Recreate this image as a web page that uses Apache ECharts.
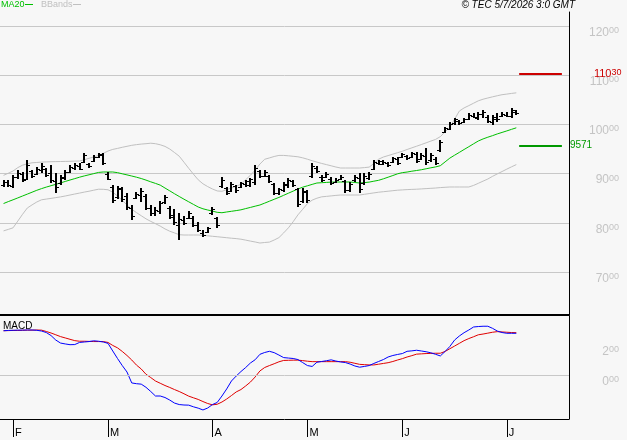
<!DOCTYPE html>
<html>
<head>
<meta charset="utf-8">
<script src="https://cdn.jsdelivr.net/npm/echarts@6/dist/echarts.min.js"></script>
<style>
  html, body { margin: 0; padding: 0; background: #f7f7f7; }
  #chart { width: 627px; height: 440px; }
</style>
</head>
<body>
<div id="chart"></div>
<script>
// daily bars, index 0 = 29 Jan ... 108 = 3 Jul
const opens = [87.6,88.2,87.5,89.3,90.0,89.0,90.5,90.0,90.8,90.9,
  90.2,88.5,88.0,89.2,90.4,91.2,91.5,92.4,91.9,92.6,
  93.4,93.8,90.0,87.2,85.2,86.8,85.5,83.0,85.0,85.6,
  85.4,83.0,82.0,82.3,84.2,83.0,81.6,79.5,80.5,81.0,
  81.0,79.6,78.0,78.2,81.9,80.9,87.4,87.0,86.5,87.4,
  87.3,87.9,87.7,88.2,90.5,89.6,89.5,87.8,86.0,86.6,
  87.6,88.5,86.8,84.4,86.3,89.5,91.2,89.4,89.3,89.0,
  88.3,89.0,88.4,86.6,88.6,89.2,88.0,89.2,91.0,92.2,
  92.0,92.1,92.4,92.9,93.4,93.5,93.4,94.0,93.0,93.5,
  92.7,93.0,94.8,98.5,99.1,100.2,100.7,100.5,101.2,101.8,
  101.4,102.1,101.6,100.4,101.2,101.7,102.0,101.7,102.6];
const closes = [88.3,87.6,89.4,90.2,88.8,91.8,89.6,91.0,91.6,89.7,
  88.6,87.2,89.3,90.4,91.4,91.8,91.0,93.8,91.5,93.4,
  93.9,92.2,89.0,84.6,87.0,84.8,83.2,81.3,85.9,86.5,
  83.0,81.9,82.6,84.0,85.2,81.2,80.2,80.8,80.0,82.0,
  79.6,78.6,77.6,78.9,82.8,79.5,88.8,86.0,87.9,86.6,
  88.0,88.4,88.9,91.2,89.5,90.3,88.4,86.1,86.8,87.9,
  88.7,87.6,83.8,86.5,84.6,91.6,90.6,88.7,90.0,88.0,
  88.8,89.4,86.7,87.8,89.4,86.8,89.6,90.0,92.3,92.5,
  92.4,91.7,93.1,92.2,94.0,93.1,94.1,92.6,93.8,92.3,
  93.8,92.2,96.4,99.2,100.1,101.0,100.3,101.0,102.0,101.6,
  102.2,102.6,100.6,101.5,101.0,102.2,101.8,103.0,102.4];
const lows = [87.28,87.28,87.07,88.90,88.29,88.70,89.11,89.72,90.12,89.31,
  88.09,86.06,87.68,88.70,90.12,90.73,90.73,92.15,91.14,92.36,
  93.17,91.75,88.70,84.02,84.84,84.23,82.60,80.57,84.84,84.23,
  82.60,81.38,81.38,81.79,83.82,80.77,79.55,76.50,79.55,80.77,
  79.15,78.13,77.11,77.93,81.58,78.94,87.07,85.65,86.26,86.06,
  87.07,87.28,87.28,87.68,89.11,89.31,88.09,85.65,85.65,86.26,
  87.07,87.28,83.21,84.02,84.02,89.11,90.12,88.29,89.11,87.68,
  88.09,88.70,86.06,86.26,88.29,86.06,87.68,88.70,90.73,91.75,
  91.75,91.34,92.15,91.75,93.17,92.76,93.17,92.15,92.76,91.75,
  92.36,91.75,94.39,98.25,98.86,99.88,99.88,100.28,100.89,101.30,
  100.89,101.30,100.28,99.88,100.49,101.50,101.50,101.30,101.91];
const highs = [88.70,88.70,89.72,90.73,90.33,92.76,90.73,91.34,92.15,91.14,
  91.75,90.12,89.72,90.73,91.75,92.15,92.15,94.19,92.15,93.78,
  94.19,94.19,90.33,87.68,87.48,87.28,86.06,83.62,86.26,87.07,
  85.85,83.62,83.21,84.43,85.65,83.41,82.80,81.99,81.38,82.40,
  81.38,80.16,78.54,79.15,83.21,81.18,89.31,87.28,88.29,87.68,
  88.29,88.70,89.11,91.75,90.73,90.73,89.72,88.09,87.07,88.29,
  89.11,88.70,87.07,87.07,86.67,92.15,91.54,89.72,90.33,89.31,
  89.11,89.72,88.70,88.29,89.72,90.12,90.12,90.33,92.76,92.76,
  92.76,92.36,93.37,93.37,94.19,93.78,94.39,94.39,94.19,95.20,
  94.19,93.37,96.83,99.47,100.49,101.30,100.89,101.30,102.32,102.32,
  102.52,102.93,101.91,101.91,102.32,102.52,102.52,103.33,102.93];

const ma20 = [83.92,84.31,84.68,85.06,85.45,85.83,86.22,86.61,86.95,87.26,
  87.54,87.82,88.11,88.41,88.70,88.98,89.27,89.53,89.76,90.00,
  90.24,90.33,90.33,90.33,90.20,89.96,89.74,89.51,89.27,89.00,
  88.68,88.33,88.01,87.66,87.07,86.50,85.91,85.35,84.80,84.27,
  83.74,83.21,82.85,82.60,82.38,82.13,82.05,82.20,82.34,82.48,
  82.64,82.89,83.13,83.38,83.62,84.00,84.39,84.78,85.16,85.59,
  86.02,86.44,86.87,87.24,87.52,87.81,88.09,88.15,88.21,88.27,
  88.29,88.29,88.29,88.30,88.19,88.09,88.17,88.27,88.46,88.64,
  88.94,89.27,89.61,89.96,90.20,90.32,90.49,90.63,90.79,90.98,
  91.18,91.36,91.61,92.38,93.15,93.74,94.31,94.90,95.47,96.06,
  96.63,97.05,97.40,97.72,98.07,98.37,98.68,99.00,99.31];
const bbUpper = [89.65,90.08,90.53,91.22,91.71,91.99,92.20,92.26,92.34,92.38,
  92.42,92.44,92.46,92.48,92.50,92.54,92.56,92.82,93.11,93.39,
  93.68,94.11,94.59,94.92,95.12,95.35,95.55,95.75,95.89,96.00,
  96.08,96.18,96.08,95.86,95.53,95.00,94.29,93.54,92.32,91.08,
  89.88,88.74,87.93,87.36,86.87,86.48,86.40,86.73,87.07,87.42,
  87.85,88.76,89.67,90.71,91.95,92.91,93.19,93.48,93.70,93.70,
  93.62,93.52,93.42,93.21,92.93,92.62,92.34,92.07,91.83,91.59,
  91.34,91.14,91.14,91.14,91.14,91.14,91.22,91.32,92.05,92.93,
  93.37,93.66,93.96,94.25,94.55,94.90,95.24,95.57,95.91,96.26,
  96.61,96.95,97.52,98.48,99.43,101.06,102.72,103.35,103.82,104.31,
  104.80,105.12,105.37,105.61,105.83,106.04,106.16,106.30,106.42];
const bbLower = [78.36,78.66,78.98,80.35,81.73,83.01,83.64,84.23,84.68,84.82,
  84.96,85.12,85.27,85.45,85.65,85.85,86.04,86.24,86.42,86.63,
  86.83,86.81,86.71,86.22,85.45,84.57,83.62,82.74,82.07,81.44,
  80.81,80.29,79.82,79.33,78.76,78.29,77.95,77.58,77.52,77.52,
  77.52,77.52,77.46,77.36,77.26,77.17,77.07,76.97,76.87,76.79,
  76.67,76.48,76.28,76.10,75.89,76.00,76.08,76.50,76.99,77.95,
  78.98,80.22,81.61,82.74,83.90,84.61,85.00,85.28,85.37,85.47,
  85.57,85.65,85.65,85.65,85.65,85.65,85.79,85.94,86.08,86.22,
  86.32,86.42,86.53,86.63,86.69,86.75,86.79,86.83,86.89,86.95,
  87.01,87.07,87.16,87.22,87.28,87.28,87.28,87.28,87.28,87.60,
  88.03,88.47,88.90,89.45,89.94,90.42,90.91,91.38,91.83];

const macd = [2.95,2.97,2.98,2.99,2.99,3.00,3.00,2.98,2.93,2.83,
  2.63,2.33,2.13,2.07,2.02,2.03,2.17,2.20,2.23,2.28,
  2.25,2.20,2.11,1.60,1.10,0.63,0.20,-0.53,-0.58,-0.61,
  -0.82,-1.10,-1.40,-1.40,-1.50,-1.67,-1.87,-1.97,-2.00,-2.01,
  -2.12,-2.21,-2.33,-2.20,-1.97,-1.83,-1.40,-0.93,-0.40,-0.07,
  0.23,0.50,0.80,1.02,1.38,1.50,1.58,1.49,1.33,1.16,
  1.13,1.10,1.03,0.83,0.63,0.57,0.85,0.90,0.95,1.01,
  0.93,0.87,0.83,0.73,0.60,0.52,0.57,0.63,0.77,0.90,
  1.03,1.20,1.30,1.37,1.43,1.58,1.61,1.65,1.60,1.55,
  1.48,1.38,1.27,1.57,1.90,2.33,2.60,2.82,3.00,3.20,
  3.23,3.25,3.25,3.11,2.93,2.83,2.78,2.78,2.78];
const signal = [2.95,2.96,2.97,2.97,2.98,2.99,2.99,3.00,2.99,2.90,
  2.80,2.68,2.56,2.47,2.38,2.29,2.25,2.25,2.24,2.23,
  2.23,2.23,2.17,1.97,1.81,1.57,1.30,1.00,0.66,0.40,
  0.05,-0.17,-0.40,-0.55,-0.70,-0.83,-0.97,-1.10,-1.25,-1.41,
  -1.52,-1.63,-1.77,-1.90,-1.99,-1.95,-1.80,-1.60,-1.37,-1.13,
  -0.97,-0.73,-0.47,-0.13,0.27,0.50,0.63,0.75,0.88,0.97,
  0.98,0.99,0.99,0.96,0.92,0.89,0.89,0.89,0.89,0.89,
  0.89,0.89,0.89,0.85,0.78,0.71,0.69,0.67,0.67,0.72,
  0.77,0.82,0.90,1.00,1.09,1.20,1.29,1.39,1.41,1.43,
  1.44,1.45,1.45,1.57,1.75,1.93,2.11,2.29,2.43,2.55,
  2.68,2.73,2.79,2.85,2.89,2.87,2.85,2.83,2.82];

const priceTicks = [70, 80, 90, 100, 110, 120];
const macdTicks = [0, 2];
const monthTicks = [2, 22, 44, 64, 84, 106];   // first session of each month
const monthLabels = ['F', 'M', 'A', 'M', 'J', 'J'];
const levels = [110.30, 95.71];                 // resistance / support

const FONT = '"Liberation Sans", Arial, sans-serif';
const GRAY = '#c4c4c4';

function toPairs(arr) {
  return arr.map((v, i) => [i, v]);
}
// 120 -> 120 with small raised 00
function decLabel(v) {
  const p = v.toFixed(2).split('.');
  return '{a|' + p[0] + '}{b|' + p[1] + '}';
}
const axisRich = {
  a: { fontSize: 12, color: GRAY, fontFamily: FONT, lineHeight: 13 },
  b: { fontSize: 9, color: GRAY, fontFamily: FONT, verticalAlign: 'top' }
};

const chart = echarts.init(document.getElementById('chart'));

chart.setOption({
  animation: false,
  backgroundColor: '#f7f7f7',
  grid: [
    { left: 0, top: 12, width: 569, height: 303, outerBoundsMode: 'none' },
    { left: 0, top: 316, width: 569, height: 103, outerBoundsMode: 'none' }
  ],
  xAxis: [
    {
      type: 'value', gridIndex: 0, min: -0.75, max: 119.1,
      axisLine: { show: true, onZero: false, lineStyle: { color: '#000', width: 2 } },
      axisTick: { show: false }, axisLabel: { show: false }, splitLine: { show: false }
    },
    {
      type: 'value', gridIndex: 1, min: -0.75, max: 119.1,
      axisLine: { show: true, onZero: false, lineStyle: { color: '#000', width: 1 } },
      axisTick: { show: true, customValues: monthTicks, length: 18, lineStyle: { color: '#000', width: 1 } },
      axisLabel: {
        customValues: monthTicks,
        formatter: v => monthLabels[monthTicks.indexOf(v)],
        align: 'left', margin: 8, padding: [0, 0, 0, 2],
        fontSize: 11, color: '#000', fontFamily: FONT
      },
      splitLine: { show: false }
    }
  ],
  yAxis: [
    {
      type: 'value', gridIndex: 0, position: 'right', min: 61.26, max: 122.85,
      axisLine: { show: true, onZero: false, lineStyle: { color: '#000', width: 1 } },
      axisTick: { show: false, customValues: priceTicks },
      axisLabel: {
        customValues: priceTicks, formatter: decLabel, rich: axisRich,
        align: 'right', verticalAlign: 'top', margin: 50
      },
      splitLine: { show: true, lineStyle: { color: '#c8c8c8', width: 1 } }
    },
    {
      type: 'value', gridIndex: 1, position: 'right', min: -2.933, max: 3.933,
      axisLine: { show: true, onZero: false, lineStyle: { color: '#000', width: 1 } },
      axisTick: { show: false, customValues: macdTicks },
      axisLabel: {
        customValues: macdTicks, formatter: decLabel, rich: axisRich,
        align: 'right', verticalAlign: 'top', margin: 50
      },
      splitLine: { show: false }
    }
  ],
  graphic: [
    { type: 'text', x: 1, y: 0, style: { text: 'MA20', font: '9px ' + FONT, fill: '#00c000', verticalAlign: 'top', textVerticalAlign: 'top' } },
    { type: 'line', shape: { x1: 25, y1: 4.5, x2: 33, y2: 4.5 }, style: { stroke: '#00c000', lineWidth: 1 } },
    { type: 'text', x: 41, y: 0, style: { text: 'BBands', font: '9px ' + FONT, fill: '#c0c0c0', verticalAlign: 'top', textVerticalAlign: 'top' } },
    { type: 'line', shape: { x1: 73, y1: 4.5, x2: 81, y2: 4.5 }, style: { stroke: '#c0c0c0', lineWidth: 1 } },
    { type: 'text', x: 575, y: 0, style: { text: '\u00a9 TEC 5/7/2026 3:0 GMT', font: 'italic 10px ' + FONT, fill: '#000', align: 'right', textAlign: 'right', verticalAlign: 'top', textVerticalAlign: 'top' } },
    { type: 'text', x: 3, y: 321, style: { text: 'MACD', font: '10px ' + FONT, fill: '#000', verticalAlign: 'top', textVerticalAlign: 'top' } }
  ],
  series: [
    {
      name: 'BBup', type: 'line', xAxisIndex: 0, yAxisIndex: 0, silent: true,
      data: toPairs(bbUpper), symbol: 'none', lineStyle: { color: '#c0c0c0', width: 1 }
    },
    {
      name: 'BBlow', type: 'line', xAxisIndex: 0, yAxisIndex: 0, silent: true,
      data: toPairs(bbLower), symbol: 'none', lineStyle: { color: '#c0c0c0', width: 1 }
    },
    {
      name: 'MA20', type: 'line', xAxisIndex: 0, yAxisIndex: 0, silent: true,
      data: toPairs(ma20), symbol: 'none', lineStyle: { color: '#00c000', width: 1 },
      markLine: {
        silent: true, symbol: 'none', animation: false,
        data: [
          [
            {
              coord: [108.6, levels[0]], lineStyle: { color: '#cc0000', width: 2, type: 'solid' },
              label: {
                show: true, position: 'end', distance: 32, formatter: () => decLabel(levels[0]),
                rich: {
                  a: { fontSize: 11, color: '#cc0000', fontFamily: FONT, lineHeight: 12 },
                  b: { fontSize: 9, color: '#cc0000', fontFamily: FONT, verticalAlign: 'top' }
                }
              }
            },
            { coord: [117.6, levels[0]] }
          ],
          [
            {
              coord: [108.6, levels[1]], lineStyle: { color: '#009900', width: 2, type: 'solid' },
              label: {
                show: true, position: 'end', distance: 8,
                formatter: () => levels[1].toFixed(2).replace('.', ''),
                color: '#009900', fontSize: 10, fontFamily: FONT
              }
            },
            { coord: [117.6, levels[1]] }
          ]
        ]
      }
    },
    {
      name: 'OHLC', type: 'custom', xAxisIndex: 0, yAxisIndex: 0, silent: true, z: 5,
      data: opens.map((o, i) => [i, o, closes[i], lows[i], highs[i]]),
      encode: { x: 0, y: [1, 2, 3, 4] },
      renderItem: function (params, api) {
        const i = api.value(0);
        const hi = api.coord([i, api.value(4)]);
        const lo = api.coord([i, api.value(3)]);
        const op = api.coord([i, api.value(1)]);
        const cl = api.coord([i, api.value(2)]);
        const x = Math.round(hi[0]);
        const oy = Math.round(op[1]) + 0.5;
        const cy = Math.round(cl[1]) + 0.5;
        return {
          type: 'group',
          children: [
            { type: 'line', shape: { x1: x, y1: Math.round(hi[1]), x2: x, y2: Math.round(lo[1]) }, style: { stroke: '#000', lineWidth: 2 } },
            { type: 'line', shape: { x1: x - 3, y1: oy, x2: x - 1, y2: oy }, style: { stroke: '#000', lineWidth: 1 } },
            { type: 'line', shape: { x1: x + 1, y1: cy, x2: x + 3, y2: cy }, style: { stroke: '#000', lineWidth: 1 } }
          ]
        };
      }
    },
    {
      name: 'MACD', type: 'line', xAxisIndex: 1, yAxisIndex: 1, silent: true,
      data: toPairs(macd), symbol: 'none', lineStyle: { color: '#0000ff', width: 1 }, z: 4,
      markLine: {
        silent: true, symbol: 'none', animation: false, label: { show: false },
        lineStyle: { color: '#c8c8c8', width: 1, type: 'solid' },
        data: [{ yAxis: 0 }]
      }
    },
    {
      name: 'Signal', type: 'line', xAxisIndex: 1, yAxisIndex: 1, silent: true,
      data: toPairs(signal), symbol: 'none', lineStyle: { color: '#e00000', width: 1 }, z: 3
    }
  ]
});
</script>
</body>
</html>
